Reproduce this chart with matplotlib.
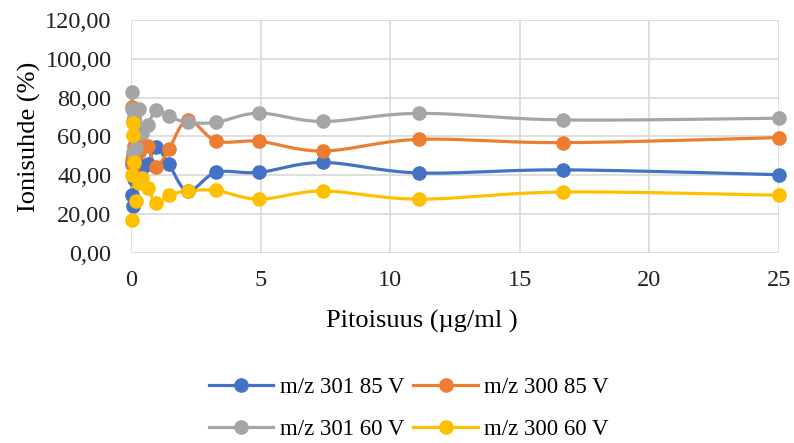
import numpy as np
import matplotlib
matplotlib.use("Agg")
import matplotlib.pyplot as plt

plt.rcParams['font.family'] = ['Liberation Serif', 'DejaVu Serif']

# pitoisuudet (ug/ml), laimennussarja 1.5-kertaisin välein
pitoisuus = [0.026, 0.039, 0.059, 0.088, 0.13, 0.20, 0.29, 0.44, 0.65, 0.98,
             1.46, 2.19, 3.29, 4.94, 7.41, 11.11, 16.67, 25.0]

mz301_85 = [30.0, 46.0, 24.0, 50.0, 38.0, 47.0, 44.0, 44.0, 46.0, 54.5,
            45.8, 31.9, 41.5, 41.5, 46.6, 41.2, 42.8, 40.3]
mz300_85 = [48.0, 75.0, 68.0, 45.0, 55.0, 62.0, 52.0, 55.0, 55.1, 44.5,
            53.4, 68.5, 57.7, 57.5, 52.5, 58.5, 56.8, 59.4]
mz301_60 = [82.7, 74.0, 52.0, 60.5, 70.0, 54.0, 74.0, 62.0, 66.0, 73.5,
            70.3, 67.3, 67.3, 72.0, 67.7, 71.9, 68.5, 69.4]
mz300_60 = [17.0, 40.0, 60.5, 67.0, 47.0, 27.0, 36.0, 38.5, 33.5, 25.5,
            29.7, 31.9, 32.2, 27.7, 31.9, 27.7, 31.4, 29.7]

sarjat = [("m/z 301 85 V", mz301_85, "#4472C4"),
          ("m/z 300 85 V", mz300_85, "#ED7D31"),
          ("m/z 301 60 V", mz301_60, "#A5A5A5"),
          ("m/z 300 60 V", mz300_60, "#FFC000")]

XMAX, YMAX = 25, 120


def pehmea(x, y, sx, sy, n=20):
    # Catmull-Rom -käyrä pisteiden kautta (lasketaan kuvapistemittakaavassa)
    p = np.column_stack([np.asarray(x) * sx, np.asarray(y) * sy])
    p = np.vstack([p[0], p, p[-1]])
    out = []
    t = np.linspace(0, 1, n)[:, None]
    for i in range(1, len(p) - 2):
        p0, p1, p2, p3 = p[i - 1], p[i], p[i + 1], p[i + 2]
        c1 = p1 + (p2 - p0) / 6
        c2 = p2 - (p3 - p1) / 6
        seg = ((1 - t) ** 3) * p1 + 3 * ((1 - t) ** 2) * t * c1 \
            + 3 * (1 - t) * t ** 2 * c2 + t ** 3 * p2
        out.append(seg if i == 1 else seg[1:])
    out = np.vstack(out)
    return out[:, 0] / sx, out[:, 1] / sy


fig = plt.figure(figsize=(7.94, 4.43), dpi=100)
ax = fig.add_axes([0.165, 0.429, 0.816, 0.526])

sx = 648 / XMAX
sy = 233 / YMAX
kahvat = {}
for nimi, arvot, vari in sarjat:
    xs, ys = pehmea(pitoisuus, arvot, sx, sy)
    ax.plot(xs, ys, color=vari, lw=2.3, clip_on=False, zorder=3)
    ax.plot(pitoisuus, arvot, 'o', color=vari, ms=9.5, clip_on=False, zorder=4)
    kahvat[nimi] = ax.plot([], [], '-o', color=vari, lw=2.3, ms=9.5)[0]

ax.set_xlim(0, XMAX)
ax.set_ylim(0, YMAX)
ax.set_xticks(range(0, 26, 5))
ax.set_yticks(range(0, 121, 20))
ax.set_yticklabels([f"{v:.2f}".replace(".", ",") for v in range(0, 121, 20)])
ax.grid(True, color="#d9d9d9", lw=1.2)
ax.set_axisbelow(True)
for s in ax.spines.values():
    s.set_visible(False)
ax.tick_params(length=0, labelsize=17.5, colors="#222222")
ax.tick_params(axis='y', pad=14)
ax.tick_params(axis='x', pad=12)

ax.set_xlabel("Pitoisuus (µg/ml )", fontsize=19, labelpad=14, x=0.449)
ax.set_ylabel("Ionisuhde (%)", fontsize=19, labelpad=3)

jarj = ["m/z 301 85 V", "m/z 301 60 V", "m/z 300 85 V", "m/z 300 60 V"]
fig.legend([kahvat[k] for k in jarj], jarj, ncol=2, loc="center",
           bbox_to_anchor=(0.515, 0.078), frameon=False, fontsize=16.5,
           handlelength=2.8, columnspacing=0.4, handletextpad=0.3,
           labelspacing=0.95)

fig.savefig("out.png", dpi=100)
